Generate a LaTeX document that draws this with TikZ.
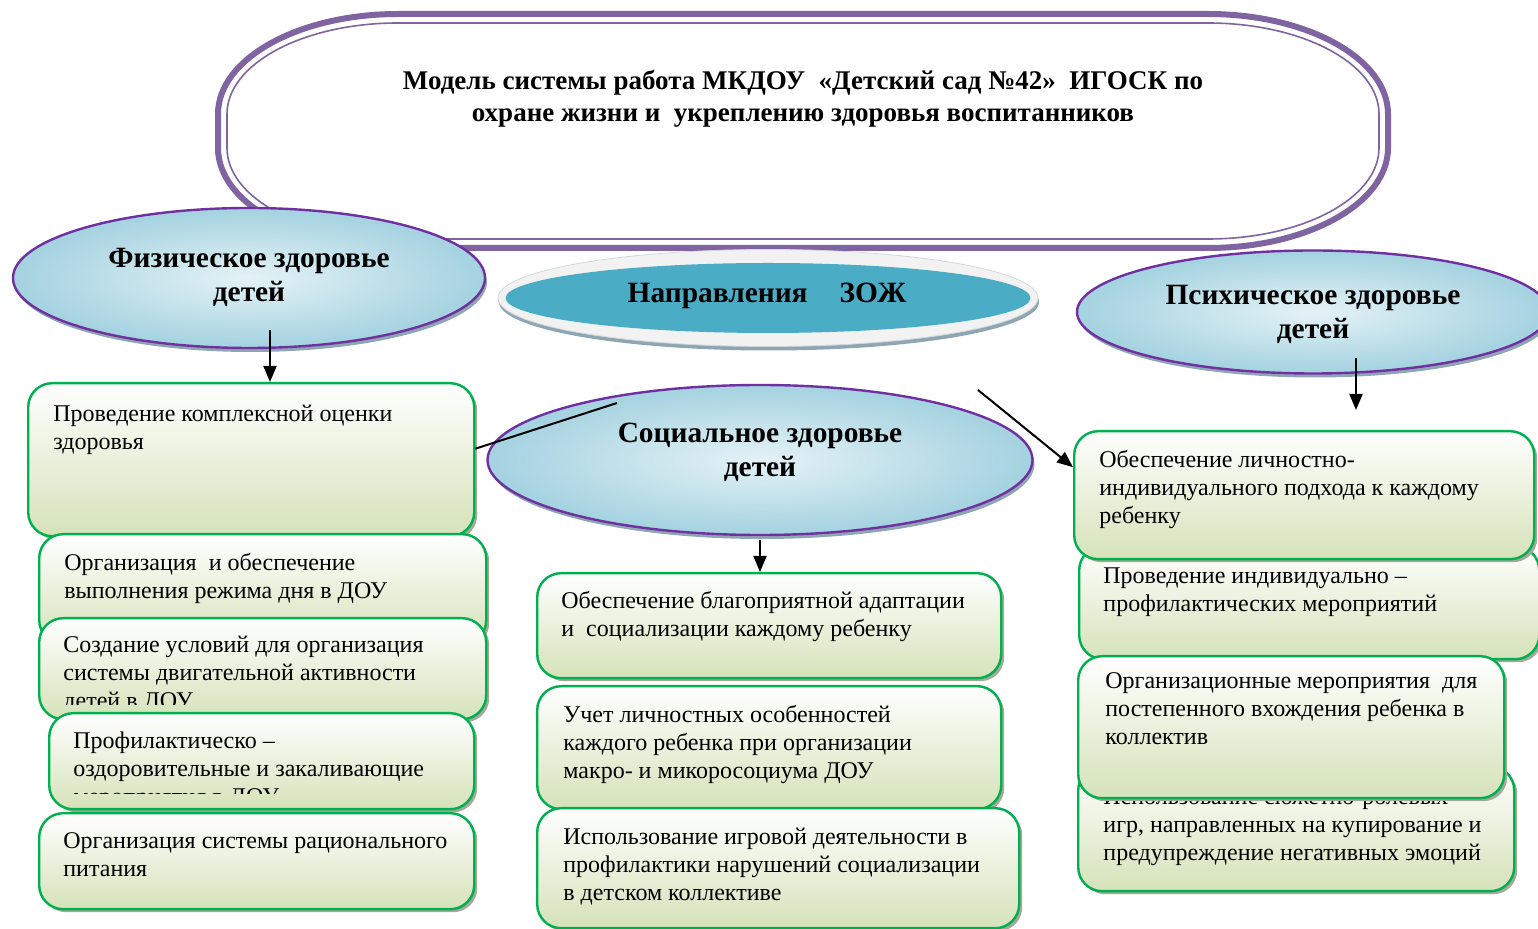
\documentclass[tikz,border=0pt]{standalone}
\usepackage{fontspec}
\setmainfont{Liberation Serif}
\usetikzlibrary{arrows.meta,shapes.geometric}

\definecolor{zgreen}{HTML}{00B050}
\definecolor{zboxtop}{HTML}{FFFFFF}
\definecolor{zboxbot}{HTML}{D5E2B9}
\definecolor{zshadow}{HTML}{A3A897}
\definecolor{zpurple}{HTML}{7030A0}
\definecolor{ztitle}{HTML}{8064A2}
\definecolor{zellin}{HTML}{E4F2F6}
\definecolor{zellout}{HTML}{A4D2E0}
\definecolor{zellshadow}{HTML}{8EA6B4}
\definecolor{zteal}{HTML}{4BACC6}
\definecolor{zrim}{HTML}{F2F2F2}
\definecolor{zrimline}{HTML}{D0D8DC}

\newcommand{\ztxt}{\fontsize{12}{14}\selectfont}
\newcommand{\zhead}{\fontsize{14.7}{17}\selectfont\bfseries}
\newcommand{\ztitlefont}{\fontsize{13.5}{16}\selectfont\bfseries}

\tikzset{
  zbox/.style={draw=zgreen, line width=1.2pt, rounded corners=12pt, top color=zboxtop, bottom color=zboxbot,
    anchor=north west, inner sep=0pt, preaction={fill=zshadow, transform canvas={xshift=1.5pt,yshift=-1.5pt}}},
  ztext/.style={anchor=base west, inner sep=0pt, font=\ztxt},
  zell/.style={ellipse, draw=zpurple, line width=1.2pt, inner color=zellin, outer color=zellout, inner sep=0pt,
    preaction={fill=zellshadow, transform canvas={xshift=1pt,yshift=-2pt}}},
  zhtext/.style={font=\zhead, align=center, inner sep=0pt},
  zarrow/.style={line width=1pt, -{Triangle[length=8pt,width=6.5pt]}},
  zline/.style={line width=1pt}
}

\begin{document}
\begin{tikzpicture}[x=0.5pt,y=-0.5pt]
\useasboundingbox (0,0) rectangle (1538,929);

    % title frame (double purple line)
    \foreach \d/\lw in {0/3pt,9/0.8pt}
      \draw[ztitle, line width=\lw, fill=white]
        (398,14+\d) -- (1208,14+\d)
        arc[start angle=90, end angle=0, x radius=90pt-\d*0.5pt, y radius=50pt-\d*0.5pt]
        -- (1388-\d,148)
        arc[start angle=0, end angle=-90, x radius=90pt-\d*0.5pt, y radius=50pt-\d*0.5pt]
        -- (398,248-\d)
        arc[start angle=270, end angle=180, x radius=90pt-\d*0.5pt, y radius=50pt-\d*0.5pt]
        -- (218+\d,114)
        arc[start angle=180, end angle=90, x radius=90pt-\d*0.5pt, y radius=50pt-\d*0.5pt]
        -- cycle;
    \node[font=\ztitlefont, align=center] (title) at (803,99)
      {Модель системы работа МКДОУ \ «Детский сад №42» \ ИГОСК по\\охране жизни и \ укреплению здоровья воспитанников};

    % ellipses (directions)
    \node[zell, minimum width=236pt, minimum height=70pt] (phys) at (249,278) {};
    \node[zhtext] (physt) at (249,277) {Физическое здоровье\\детей};

    \node[ellipse, draw=zrimline, fill=zrim, minimum width=270pt, minimum height=48.5pt,
      preaction={fill=zellshadow, transform canvas={xshift=0.5pt,yshift=-2pt}}] (zojrim) at (768,298) {};
    \node[ellipse, fill=zteal, minimum width=262.5pt, minimum height=35pt] (zoj) at (768,298) {};
    \node[zhtext] (zojt) at (767,296) {Направления\hspace{16pt}ЗОЖ};

    \node[zell, minimum width=236pt, minimum height=61.5pt] (psych) at (1313,312) {};
    \node[zhtext] (psycht) at (1313,314) {Психическое здоровье\\детей};

    \node[zell, minimum width=272.5pt, minimum height=75pt] (soc) at (760,460) {};
    \node[zhtext] (soct) at (760,452) {Социальное здоровье\\детей};

    % left column (physical)
    \node[zbox, minimum width=223pt, minimum height=76.5pt] (l1) at (27,382) {};
    \node[ztext] (l1t) at (53,422) {\parbox[t]{240pt}{Проведение комплексной оценки\\здоровья}};
    \node[zbox, minimum width=223.5pt, minimum height=55pt] (l2) at (38,533) {};
    \node[ztext] (l2t) at (64,571) {\parbox[t]{240pt}{Организация \ и обеспечение\\выполнения режима дня в ДОУ}};
    \node[zbox, minimum width=223.5pt, minimum height=50.5pt] (l3) at (38,617) {};
    \begin{scope}
      \clip (0,0) rectangle (1538,705);
      \node[ztext] (l3t) at (63,653) {\parbox[t]{240pt}{Создание условий для организация\\системы двигательной активности\\детей в ДОУ}};
    \end{scope}
    \node[zbox, minimum width=212.5pt, minimum height=48pt] (l4) at (48,712) {};
    \begin{scope}
      \clip (0,0) rectangle (1538,794);
      \node[ztext] (l4t) at (73,749) {\parbox[t]{240pt}{Профилактическо –\\оздоровительные и закаливающие\\мероприятия в ДОУ}};
    \end{scope}
    \node[zbox, minimum width=217.5pt, minimum height=48pt] (l5) at (38,812) {};
    \node[ztext] (l5t) at (63,849) {\parbox[t]{240pt}{Организация системы рационального\\питания}};

    % middle column (social)
    \node[zbox, minimum width=232pt, minimum height=52.5pt] (m1) at (536,572) {};
    \node[ztext] (m1t) at (561,609) {\parbox[t]{240pt}{Обеспечение благоприятной адаптации\\и \ социализации каждому ребенку}};
    \node[zbox, minimum width=232pt, minimum height=61.5pt] (m2) at (536,685) {};
    \node[ztext] (m2t) at (563,723) {\parbox[t]{240pt}{Учет личностных особенностей\\каждого ребенка при организации\\макро- и микоросоциума ДОУ}};
    \node[zbox, minimum width=241pt, minimum height=60pt] (m3) at (536,807) {};
    \node[ztext] (m3t) at (563,845) {\parbox[t]{240pt}{Использование игровой деятельности в\\профилактики нарушений социализации\\в детском коллективе}};

    % right column (psychic)
    \node[zbox, minimum width=230pt, minimum height=56.5pt] (r2) at (1078,545) {};
    \node[ztext] (r2t) at (1103,584) {\parbox[t]{240pt}{Проведение индивидуально –\\профилактических мероприятий}};
    \node[zbox, minimum width=230pt, minimum height=64pt] (r1) at (1073,430) {};
    \node[ztext] (r1t) at (1099,468) {\parbox[t]{240pt}{Обеспечение личностно-\\индивидуального подхода к каждому\\ребенку}};
    \node[zbox, minimum width=218pt, minimum height=62.5pt] (r4) at (1077,765) {};
    \node[ztext] (r4t) at (1103,805) {\parbox[t]{240pt}{Использование сюжетно-ролевых\\игр, направленных на купирование и\\предупреждение негативных эмоций}};
    \node[zbox, minimum width=213pt, minimum height=71pt] (r3) at (1077,655) {};
    \node[ztext] (r3t) at (1105,689) {\parbox[t]{240pt}{Организационные мероприятия \ для\\постепенного вхождения ребенка в\\коллектив}};

    % paths
    \coordinate (pa) at (270,330);
    \draw[zarrow] (pa) -- (pa |- l1.north); % phys -> l1
    \coordinate (qa) at (1356,358);
    \coordinate (qb) at (1356,410);
    \draw[zarrow] (qa) -- (qb); % psych -> r1
    \coordinate (sa) at (760,540);
    \draw[zarrow] (sa) -- (sa |- m1.north); % soc -> m1
    \coordinate (sl) at (617,403);
    \draw[zline] ([yshift=5.5pt]l1.east) -- (sl); % l1 -> soc
    \coordinate (sr) at (978,390);
    \draw[zarrow] (sr) -- ([yshift=14pt]r1.west); % soc -> r1

\end{tikzpicture}
\end{document}
